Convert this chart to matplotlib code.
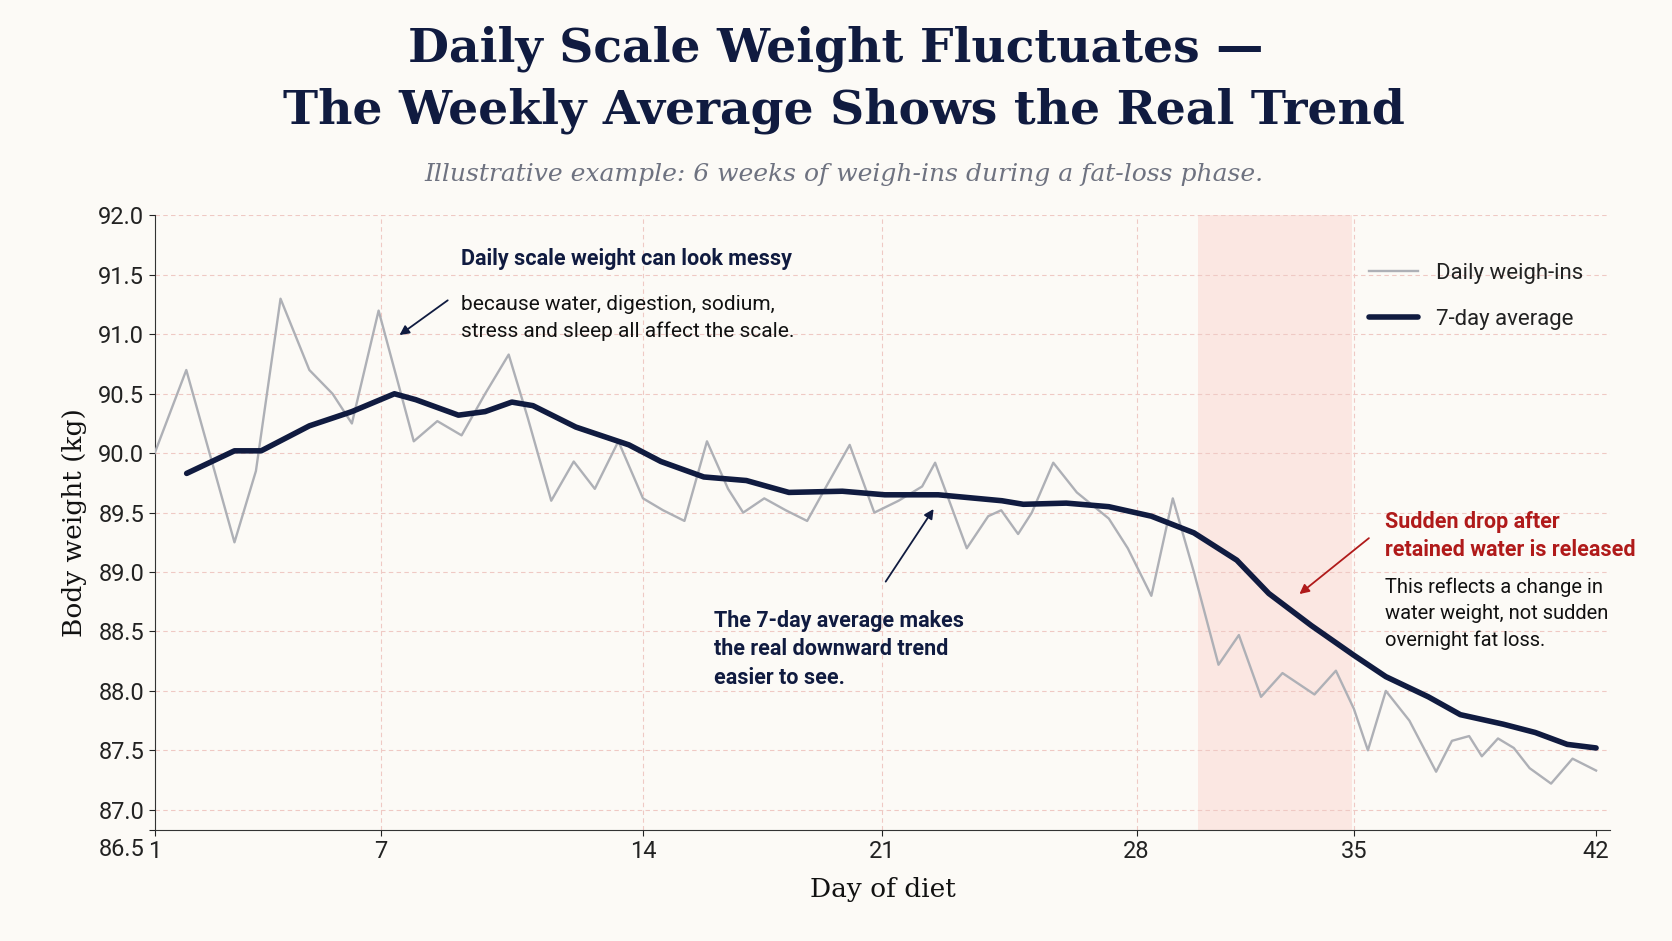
import matplotlib
matplotlib.use("Agg")
import matplotlib.pyplot as plt
import matplotlib.transforms as mtransforms

# Daily weigh-ins (day, kg)
daily_day = [1.0, 1.9, 3.27, 3.88, 4.58, 5.4, 6.06, 6.61, 7.37, 8.37, 9.04, 9.73, 10.4, 11.07,
             11.61, 12.28, 12.92, 13.52, 14.19, 14.89, 15.46, 16.07, 16.71, 17.31, 17.74, 18.34,
             18.95, 19.56, 20.16, 20.77, 21.47, 22.16, 22.83, 23.2, 24.1, 24.71, 25.08, 25.56,
             25.95, 26.56, 27.23, 28.14, 28.68, 29.35, 29.96, 30.56, 31.26, 31.84, 32.47, 33.08,
             33.99, 34.6, 35.11, 35.51, 36.02, 36.69, 37.45, 37.9, 38.39, 38.75, 39.21, 39.66,
             40.11, 40.72, 41.33, 42.0]
daily_kg = [90.0, 90.7, 89.25, 89.85, 91.3, 90.7, 90.5, 90.25, 91.2, 90.1, 90.27, 90.15, 90.5, 90.83,
            90.3, 89.6, 89.93, 89.7, 90.1, 89.62, 89.52, 89.43, 90.1, 89.7, 89.5, 89.62,
            89.52, 89.43, 89.75, 90.07, 89.5, 89.6, 89.72, 89.92, 89.2, 89.47, 89.52, 89.32,
            89.5, 89.92, 89.67, 89.45, 89.2, 88.8, 89.62, 89.0, 88.22, 88.47, 87.95, 88.15,
            87.97, 88.17, 87.85, 87.5, 88.0, 87.75, 87.32, 87.58, 87.62, 87.45, 87.6, 87.52,
            87.35, 87.22, 87.43, 87.33]

# 7-day average
avg_day = [1.91, 3.27, 4.03, 5.4, 6.61, 7.82, 8.43, 9.64, 10.4, 11.16, 11.76, 12.98, 14.49, 15.4,
           16.62, 17.83, 19.04, 20.56, 21.77, 23.29, 25.1, 25.71, 26.93, 28.14, 29.35, 30.56,
           31.78, 32.69, 33.9, 35.11, 36.02, 37.23, 38.14, 39.36, 40.27, 41.18, 42.0]
avg_kg = [89.83, 90.02, 90.02, 90.23, 90.35, 90.5, 90.45, 90.32, 90.35, 90.43, 90.4, 90.22, 90.07,
          89.93, 89.8, 89.77, 89.67, 89.68, 89.65, 89.65, 89.6, 89.57, 89.58, 89.55, 89.47, 89.33,
          89.1, 88.82, 88.55, 88.3, 88.12, 87.95, 87.8, 87.72, 87.65, 87.55, 87.52]

xtick_pos = [1, 7.43, 14.89, 21.68, 28.93, 35.11, 42]
xtick_lab = ["1", "7", "14", "21", "28", "35", "42"]
ytick_pos = [86.83, 87.0, 87.5, 88.0, 88.5, 89.0, 89.5, 90.0, 90.5, 91.0, 91.5, 92.0]
ytick_lab = ["86.5", "87.0", "87.5", "88.0", "88.5", "89.0", "89.5", "90.0", "90.5", "91.0", "91.5", "92.0"]
shade = (30.69, 35.05)

BG = "#FCFAF6"
NAVY = "#101B40"
GRAY = "#AEB0B6"
RED = "#B01A1A"
GRID = "#EFC9C4"

fig = plt.figure(figsize=(16.72, 9.41), dpi=100, facecolor=BG)
ax = fig.add_axes([0.0925, 0.118, 0.8705, 0.653])
ax.set_facecolor(BG)

ax.axvspan(*shade, color="#FBE3DE", alpha=0.8, lw=0, zorder=0)
for y in ytick_pos[1:]:
    ax.axhline(y, color=GRID, lw=0.8, ls=(0, (4, 3)), zorder=1)
for x in xtick_pos[1:-1]:
    ax.axvline(x, color=GRID, lw=0.8, ls=(0, (4, 3)), zorder=1)

ax.plot(daily_day, daily_kg, color=GRAY, lw=1.7, zorder=3, label="Daily weigh-ins")
ax.plot(avg_day, avg_kg, color=NAVY, lw=4, zorder=4, solid_capstyle="round",
        solid_joinstyle="round", label="7-day average")

ax.set_xlim(1, 42.4)
ax.set_ylim(86.83, 92)
ax.set_xticks(xtick_pos, xtick_lab)
ax.set_yticks(ytick_pos, ytick_lab)
ax.tick_params(labelsize=17, colors="#222222", length=4)
for t in ax.get_xticklabels() + ax.get_yticklabels():
    t.set_fontfamily("Roboto")
# bottom "86.5" label sits below the axis line in the reference
lab0 = ax.get_yticklabels()[0]
lab0.set_transform(lab0.get_transform() + mtransforms.ScaledTranslation(0, -0.17, fig.dpi_scale_trans))
for s in ["top", "right"]:
    ax.spines[s].set_visible(False)
for s in ["left", "bottom"]:
    ax.spines[s].set_color("#333333")

ax.set_xlabel("Day of diet", family="DejaVu Serif", fontsize=19, color="#111111", labelpad=10)
ax.set_ylabel("Body weight (kg)", family="DejaVu Serif", fontsize=19, color="#111111", labelpad=8)

leg = ax.legend(loc="upper right", frameon=False, prop={"family": "Roboto", "size": 16},
                handlelength=2.2, labelspacing=1.1, bbox_to_anchor=(0.995, 0.955))
for t in leg.get_texts():
    t.set_color("#222222")

fig.text(0.5, 0.948, "Daily Scale Weight Fluctuates —", ha="center", va="center",
         family="DejaVu Serif", weight="bold", fontsize=34, color=NAVY)
fig.text(0.505, 0.882, "The Weekly Average Shows the Real Trend", ha="center", va="center",
         family="DejaVu Serif", weight="bold", fontsize=34, color=NAVY)
fig.text(0.505, 0.815, "Illustrative example: 6 weeks of weigh-ins during a fat-loss phase.",
         ha="center", va="center", family="DejaVu Serif", style="italic", fontsize=18,
         color="#6E7280")

# annotations
ax.text(9.7, 91.63, "Daily scale weight can look messy", family="Roboto", weight="bold",
        fontsize=15.5, color=NAVY, va="center")
ax.text(9.7, 91.14, "because water, digestion, sodium,\nstress and sleep all affect the scale.",
        family="Roboto", fontsize=15, color="#111111", va="center", linespacing=1.5)
ax.annotate("", xy=(7.9, 90.98), xytext=(9.4, 91.3),
            arrowprops=dict(arrowstyle="-|>", color=NAVY, lw=1.3, mutation_scale=14))

ax.text(16.9, 88.35, "The 7-day average makes\nthe real downward trend\neasier to see.",
        family="Roboto", weight="bold", fontsize=15.5, color=NAVY, va="center", linespacing=1.4)
ax.annotate("", xy=(23.2, 89.55), xytext=(21.75, 88.9),
            arrowprops=dict(arrowstyle="-|>", color=NAVY, lw=1.3, mutation_scale=14))

ax.text(36.0, 89.3, "Sudden drop after\nretained water is released", family="Roboto",
        weight="bold", fontsize=15.5, color=RED, va="center", linespacing=1.35)
ax.text(36.0, 88.65, "This reflects a change in\nwater weight, not sudden\novernight fat loss.",
        family="Roboto", fontsize=14.5, color="#111111", va="center", linespacing=1.45)
ax.annotate("", xy=(33.5, 88.8), xytext=(35.6, 89.3),
            arrowprops=dict(arrowstyle="-|>", color=RED, lw=1.3, mutation_scale=14))

fig.savefig("out.png", dpi=100, facecolor=BG)
